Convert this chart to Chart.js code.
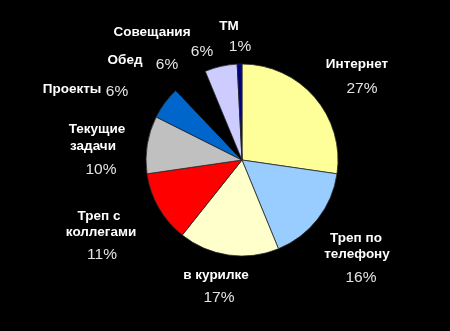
<!DOCTYPE html>
<html>
<head>
<meta charset="utf-8">
<script src="https://cdn.jsdelivr.net/npm/chart.js@4.4.1/dist/chart.umd.min.js"></script>
<style>
  html, body { margin: 0; padding: 0; background: #000; }
  #wrap { width: 450px; height: 331px; }
</style>
</head>
<body>
<div id="wrap"><canvas id="pieChart"></canvas></div>
<script>
// slices clockwise from 12 o'clock, shares
const categories = ['Интернет', 'Треп по телефону', 'в курилке', 'Треп с коллегами',
  'Текущие задачи', 'Проекты', 'Обед', 'Совещания', 'ТМ'];
const shares = [27.3, 16.5, 16.9, 12.0, 9.7, 5.5, 5.85, 5.45, 0.8];
const pctLabels = ['27%', '16%', '17%', '11%', '10%', '6%', '6%', '6%', '1%'];
const nameLines = [['Интернет'], ['Треп по', 'телефону'], ['в курилке'], ['Треп с', 'коллегами'],
  ['Текущие', 'задачи'], ['Проекты'], ['Обед'], ['Совещания'], ['ТМ']];
const sliceColors = ['#ffff99', '#99ccff', '#ffffcc', '#ff0000', '#c0c0c0',
  '#0066cc', '#000000', '#ccccff', '#000080'];

// label placement, offsets in px from the pie centre: [x, y] for each line, names then percent
const labelPlace = [
  { names: [[115, -96]], pct: [120, -71] },
  { names: [[114, 78], [115, 94]], pct: [119, 118] },
  { names: [[-26, 115]], pct: [-23, 138] },
  { names: [[-143, 56], [-141, 72]], pct: [-140, 95] },
  { names: [[-145, -31], [-149, -14]], pct: [-141, 10] },
  { names: [[-170, -71]], pct: [-125, -68] },
  { names: [[-117, -100]], pct: [-75, -95] },
  { names: [[-90, -128]], pct: [-40, -108] },
  { names: [[-13, -134]], pct: [-2, -113] }
];

const labelPlugin = {
  id: 'sliceLabels',
  afterDatasetsDraw(chart) {
    const c = chart.ctx;
    const arcs = chart.getDatasetMeta(0).data;
    const cx = arcs[0].x, cy = arcs[0].y;
    c.save();
    c.textAlign = 'center';
    c.textBaseline = 'middle';
    categories.forEach((cat, i) => {
      const p = labelPlace[i];
      c.font = 'bold 13.5px "Liberation Sans", Arial, sans-serif';
      c.fillStyle = '#ffffff';
      nameLines[i].forEach((line, j) => {
        c.fillText(line, cx + p.names[j][0], cy + p.names[j][1]);
      });
      c.font = '15.5px "Liberation Sans", Arial, sans-serif';
      c.fillStyle = '#e4e4e4';
      c.fillText(pctLabels[i], cx + p.pct[0], cy + p.pct[1]);
    });
    c.restore();
  }
};

new Chart(document.getElementById('pieChart').getContext('2d'), {
  type: 'pie',
  data: {
    labels: categories,
    datasets: [{
      data: shares,
      backgroundColor: sliceColors,
      borderColor: sliceColors.map(col => col === '#000000' ? '#000000' : '#2a2a2a'),
      borderWidth: 0.8,
      radius: 96
    }]
  },
  options: {
    responsive: true,
    maintainAspectRatio: false,
    animation: false,
    layout: { padding: { left: 34, right: 0, top: 64, bottom: 75 } },
    plugins: {
      legend: { display: false },
      tooltip: { enabled: false }
    }
  },
  plugins: [labelPlugin]
});
</script>
</body>
</html>
